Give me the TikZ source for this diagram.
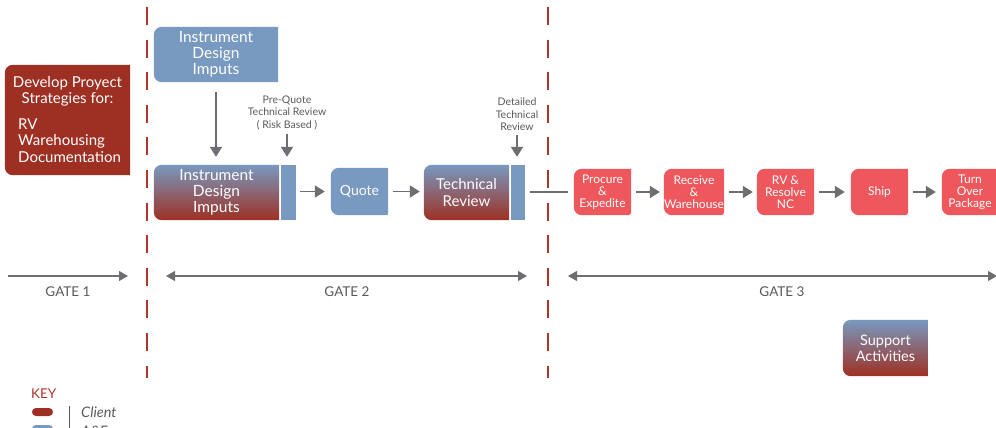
\documentclass[tikz,border=0pt]{standalone}
\usepackage{fontspec}
\setmainfont{Lato}
\usetikzlibrary{arrows.meta,backgrounds}

\definecolor{aeblue}{RGB}{120,153,192}
\definecolor{clientred}{RGB}{158,48,35}
\definecolor{shopred}{RGB}{238,88,92}
\definecolor{arrowgray}{RGB}{109,110,113}
\definecolor{labelgray}{RGB}{88,89,91}
\definecolor{gatered}{RGB}{176,52,42}

% box with round left corners, drawn behind its node
\newcommand{\tabshape}[3]{%
  \begin{pgfonlayer}{background}
    \path[#2] (#1.north) [rounded corners=8pt] -- (#1.north west) -- (#1.south west)
      -- (#1.south) [#3] -- (#1.south east) -- (#1.east) [sharp corners] -- (#1.north east) -- cycle;
  \end{pgfonlayer}}

\begin{document}
\begin{tikzpicture}[x=1pt,y=-1pt,
  panel/.style 2 args={minimum width=#1,minimum height=#2,inner sep=0pt},
  boxtext/.style={text=white,font=\fontsize{15.5}{16}\selectfont,align=center},
  shoptext/.style={text=white,font=\fontsize{12}{12}\selectfont,align=center},
  note/.style={text=labelgray,font=\fontsize{10.5}{12.5}\selectfont,align=center,inner sep=0pt},
  flow/.style={arrowgray,line width=1.8pt,-{Triangle[length=10pt,width=12pt]},shorten <=5pt,shorten >=5pt},
  link/.style={arrowgray,line width=1.5pt,shorten <=5pt,shorten >=6pt},
  gate/.style={arrowgray,line width=1.2pt},
  gatelabel/.style={text=labelgray,font=\fontsize{13.5}{15}\selectfont},
  cut/.style={gatered,line width=2.5pt,dash pattern=on 18pt off 14.6pt}]
\useasboundingbox (0,0) rectangle (996,428);

% gate boundaries
\draw[cut] (147,7) -- (147,378);
\draw[cut] (548,7) -- (548,378);

% gate 1
\node[panel={125pt}{110pt}] (strat) at (67.5,120) {};
\tabshape{strat}{fill=clientred}{sharp corners}
\node[boxtext,font=\fontsize{15}{16.5}\selectfont,inner sep=0pt] (stratA) at (67.5,91.5) {Develop Proyect\\Strategies for:};
\node[boxtext,font=\fontsize{15}{16.5}\selectfont,inner sep=0pt,align=left,anchor=west] (stratB) at (18,140.5) {RV\\Warehousing\\Documentation};

% gate 2
\node[panel={124pt}{55pt},boxtext] (in1) at (216,54.5) {Instrument\\Design\\Imputs};
\tabshape{in1}{fill=aeblue}{sharp corners}
\node[panel={125pt}{55pt},boxtext] (in2) at (216.5,192.5) {Instrument\\Design\\Imputs};
\tabshape{in2}{top color=aeblue,bottom color=clientred}{sharp corners}
\node[panel={15pt}{55pt},fill=aeblue] (strip1) at (288.5,192.5) {};

\node[note] (prequote) at (287,112.5) {Pre-Quote\\Technical Review\\( Risk Based )};

\node[panel={57pt}{47pt},boxtext,font=\fontsize{14}{16}\selectfont] (quote) at (359.5,191.5) {Quote};
\tabshape{quote}{fill=aeblue}{rounded corners=2pt}

\node[panel={85pt}{55pt},boxtext,font=\fontsize{15}{16.5}\selectfont] (tech) at (466.5,192.5) {Technical\\Review};
\tabshape{tech}{top color=aeblue,bottom color=clientred}{sharp corners}
\node[panel={14pt}{55pt},fill=aeblue] (strip2) at (518,192.5) {};

\node[note] (detailed) at (517,114.5) {Detailed\\Technical\\Review};

\draw[flow,shorten <=10pt,shorten >=8pt] (in1.south) -- (in1.south |- in2.north);
\draw[flow,shorten <=4pt,shorten >=8pt] (prequote.south) -- (prequote.south |- strip1.north);
\draw[flow,shorten <=4pt,shorten >=8pt] (detailed.south) -- (detailed.south |- strip2.north);
\draw[flow,shorten <=4pt,shorten >=6pt] (strip1.east |- quote.east) -- (quote.west);
\draw[flow,shorten >=4pt] (quote.east) -- (quote.east -| tech.west);

% gate 3
\node[panel={57pt}{46pt},shoptext] (procure) at (602.5,192) {Procure\\\&\\Expedite};
\node[panel={56pt}{46pt},shoptext] (receive) at (694,192) {Receive\\\&\\Warehouse};
\node[panel={57pt}{46pt},shoptext] (resolve) at (785.5,192) {RV \&\\Resolve\\NC};
\node[panel={57pt}{46pt},shoptext] (ship) at (879.5,192) {Ship};
\node[panel={56pt}{46pt},shoptext] (turnover) at (970,192) {Turn\\Over\\Package};
\foreach \n in {procure,receive,resolve,ship,turnover}
  \tabshape{\n}{fill=shopred}{rounded corners=3pt};

\draw[link] (strip2.east |- procure.west) -- (procure.west);
\draw[flow,shorten >=4pt] (procure) -- (receive);
\draw[flow,shorten >=4pt] (receive) -- (resolve);
\draw[flow,shorten >=6pt] (resolve) -- (ship);
\draw[flow,shorten >=6pt] (ship) -- (turnover);

\node[panel={85pt}{56pt},boxtext,font=\fontsize{14.5}{16}\selectfont] (support) at (885.5,348) {Support\\Activities};
\tabshape{support}{top color=aeblue,bottom color=clientred}{sharp corners}

% gate arrows
\coordinate (g1a) at (8,276);
\coordinate (g1b) at (128,276);
\coordinate (g2a) at (166,276);
\coordinate (g2b) at (527,276);
\coordinate (g3a) at (568,276);
\coordinate (g3b) at (997,276);
\draw[gate,-{Triangle[length=9pt,width=10pt]}] (g1a) -- (g1b);
\draw[gate,{Triangle[length=9pt,width=10pt]}-{Triangle[length=9pt,width=10pt]}] (g2a) -- (g2b);
\draw[gate,{Triangle[length=9pt,width=10pt]}-{Triangle[length=9pt,width=10pt]}] (g3a) -- (g3b);
\node[gatelabel] (gate1) at (68,292) {GATE 1};
\node[gatelabel] (gate2) at (347,292) {GATE 2};
\node[gatelabel] (gate3) at (782,292) {GATE 3};

% key
\node[text=gatered,font=\fontsize{13.5}{15}\selectfont,anchor=west,inner sep=0pt] (keytitle) at (31,394) {KEY};
\node[panel={21pt}{8pt},fill=clientred,rounded corners=4pt] (keyclient) at (42.5,412) {};
\node[panel={21pt}{8pt},fill=aeblue,rounded corners=4pt] (keyae) at (42.5,429) {};
\draw[labelgray,line width=0.8pt] (69,406) -- (69,440);
\node[text=labelgray,font=\fontsize{14.5}{16}\selectfont\itshape,anchor=west,inner sep=0pt] (keyclienttext) at (81,412) {Client};
\node[text=labelgray,font=\fontsize{14.5}{16}\selectfont\itshape,anchor=west,inner sep=0pt] (keyaetext) at (81,431) {A\&E};
\end{tikzpicture}
\end{document}
